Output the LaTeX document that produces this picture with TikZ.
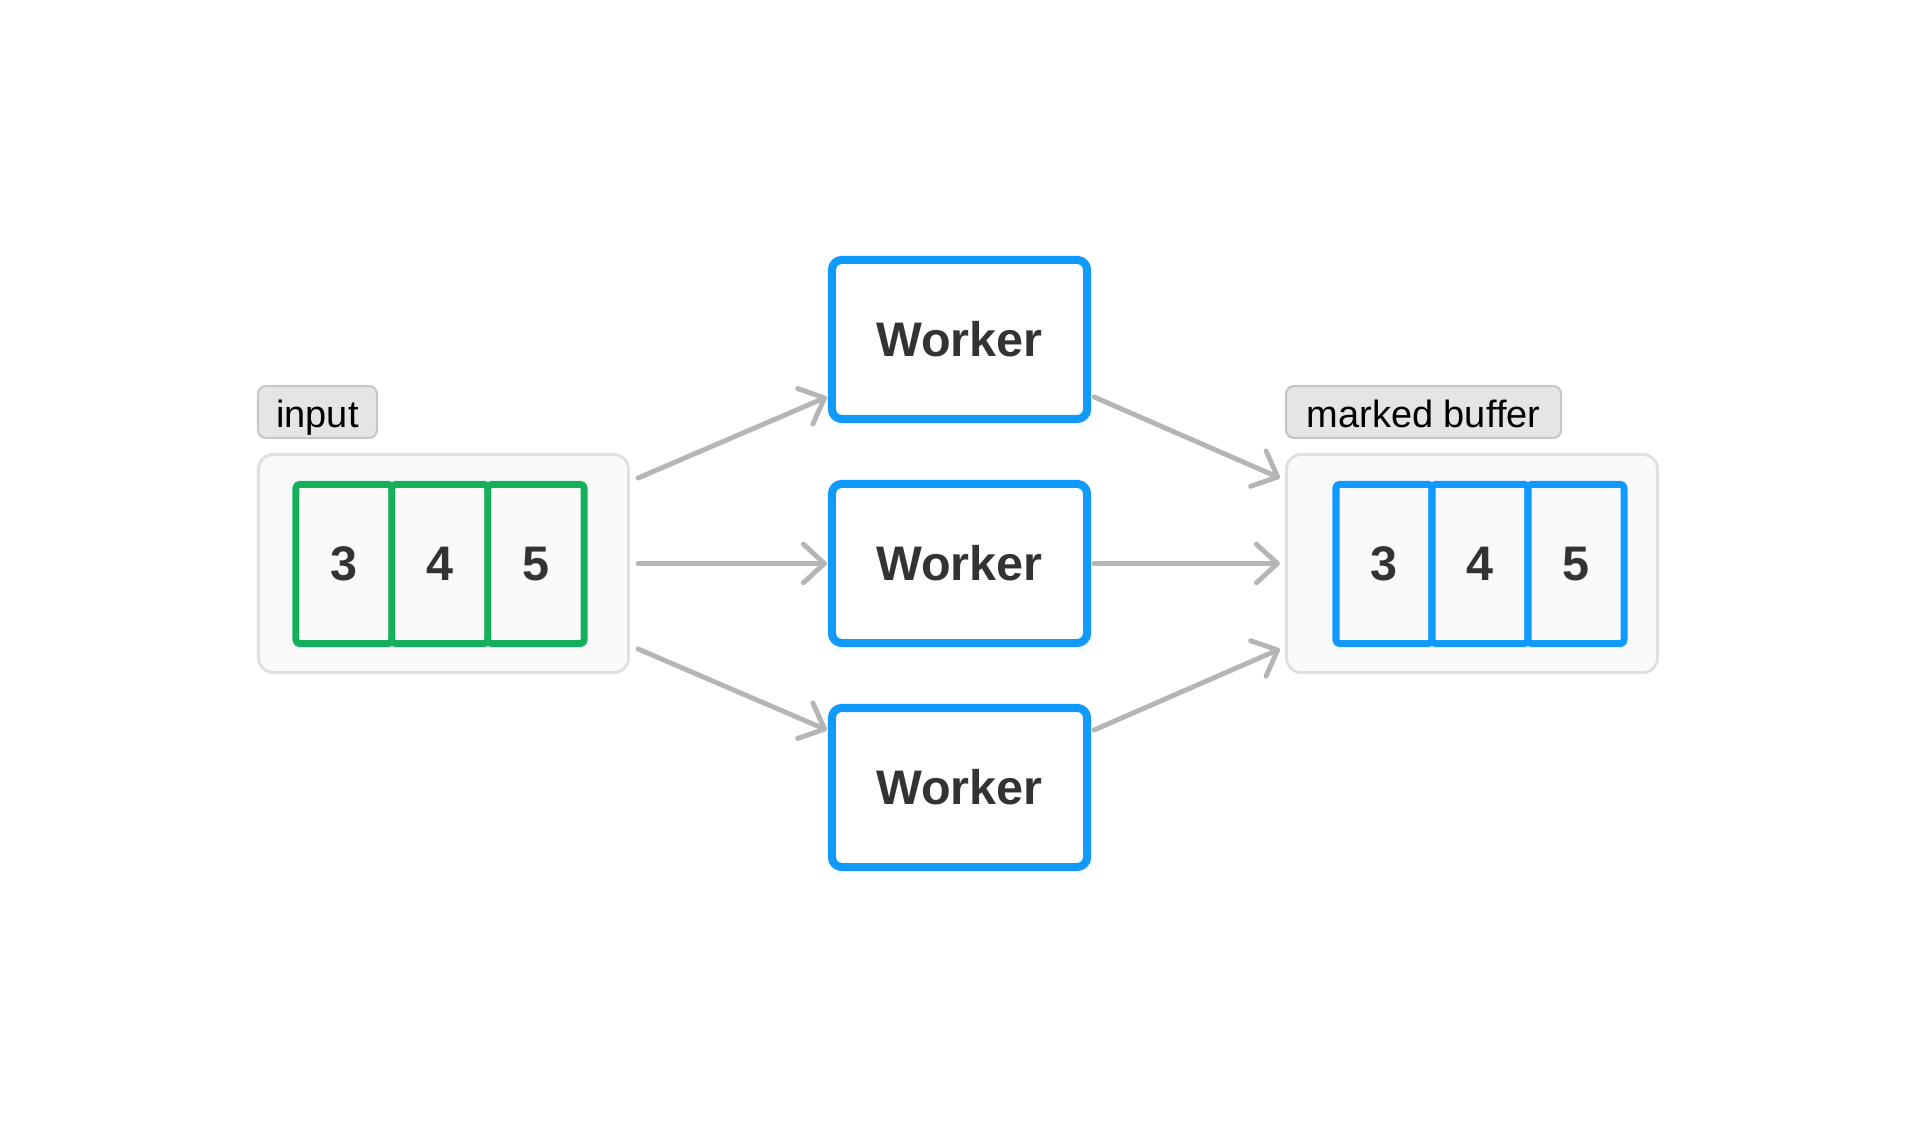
\documentclass[tikz,border=0pt]{standalone}
\usepackage{fontspec}
\setmainfont{Liberation Sans}
\usepackage{tikz}
\usetikzlibrary{arrows.meta}
\definecolor{cellgreen}{HTML}{16B05C}
\definecolor{workerblue}{HTML}{109AFE}
\definecolor{flowgray}{HTML}{B5B5B5}
\definecolor{darktext}{HTML}{333333}

\begin{document}
\begin{tikzpicture}[line cap=round,line join=round,>={Straight Barb[length=6pt,width=11pt,round]},x=0.01cm,y=-0.01cm,
        worker/.style={draw=workerblue,line width=2.3pt,fill=white,rounded corners=2.8pt,minimum width=2.55cm,minimum height=1.59cm,inner sep=0pt,text=darktext,font=\fontsize{13.8}{16}\selectfont\bfseries},
        cell/.style={line width=2pt,fill=black!2,rounded corners=1pt,minimum width=0.96cm,minimum height=1.59cm,inner sep=0pt,text=darktext,font=\fontsize{13.8}{16}\selectfont\bfseries},
        holder/.style={draw=black!12,line width=0.85pt,fill=black!2,rounded corners=4.3pt,minimum width=3.7cm,minimum height=2.18cm,inner sep=0pt},
        tag/.style={draw=black!22,line width=0.6pt,fill=black!10,rounded corners=2.3pt,minimum height=0.52cm,inner sep=0pt,text height=8.6pt,text depth=0pt,font=\fontsize{10.8}{13}\selectfont},
        flow/.style={->,flowgray,line width=1.4pt}]
        \useasboundingbox (0,0) rectangle (1916,1128);

        % input side
        \node[holder] (inbox) at (443.5,563.5) {};
        \node[tag,minimum width=1.19cm] (intag) at (317.5,412) {input};
        \node[cell,draw=cellgreen] (in3) at (344,564) {3};
        \node[cell,draw=cellgreen] (in4) at (440,564) {4};
        \node[cell,draw=cellgreen] (in5) at (536,564) {5};

        % workers
        \node[worker] (w1) at (959.5,339.5) {Worker};
        \node[worker] (w2) at (959.5,563.5) {Worker};
        \node[worker] (w3) at (959.5,787.5) {Worker};

        % output side
        \node[holder,minimum width=3.71cm] (outbox) at (1472,563.5) {};
        \node[tag,minimum width=2.75cm] (outtag) at (1423.5,412) {marked buffer};
        \node[cell,draw=workerblue] (out3) at (1384,564) {3};
        \node[cell,draw=workerblue] (out4) at (1480,564) {4};
        \node[cell,draw=workerblue] (out5) at (1576,564) {5};

        \draw[flow] ([shift={(8,-85.5)}]inbox.east) -- ([shift={(-1,57.5)}]w1.west);
        \draw[flow] ([shift={(8,0)}]inbox.east) -- ([shift={(-1,0)}]w2.west);
        \draw[flow] ([shift={(8,85.5)}]inbox.east) -- ([shift={(-1,-57.5)}]w3.west);

        \draw[flow] ([shift={(3,57.5)}]w1.east) -- ([shift={(-5,-85.5)}]outbox.west);
        \draw[flow] ([shift={(3,0)}]w2.east) -- ([shift={(-5,0)}]outbox.west);
        \draw[flow] ([shift={(3,-57.5)}]w3.east) -- ([shift={(-5,85.5)}]outbox.west);

\end{tikzpicture}
\end{document}
